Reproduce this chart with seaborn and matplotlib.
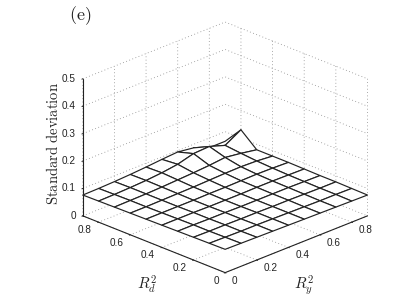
# Loads the necessary libraries
import matplotlib
matplotlib.use("Agg")
import matplotlib.pyplot as plt
import seaborn as sns
import numpy as np
from mpl_toolkits.mplot3d import proj3d

# Grid values and axis ticks
ry_values = [0.0, 0.1, 0.2, 0.3, 0.4, 0.5, 0.6, 0.7, 0.8, 0.9]
rd_values = [0.0, 0.1, 0.2, 0.3, 0.4, 0.5, 0.6, 0.7, 0.8, 0.9]
xy_ticks = [0, 0.2, 0.4, 0.6, 0.8]
xy_labels = ["0", "0.2", "0.4", "0.6", "0.8"]
z_ticks = [0, 0.1, 0.2, 0.3, 0.4, 0.5]
z_labels = ["0", "0.1", "0.2", "0.3", "0.4", "0.5"]

# Standard deviation, one row per Rd value
sd_rd0 = [0.085, 0.084, 0.083, 0.082, 0.081, 0.080, 0.079, 0.078, 0.077, 0.076]
sd_rd1 = [0.084, 0.083, 0.082, 0.082, 0.081, 0.080, 0.079, 0.078, 0.078, 0.077]
sd_rd2 = [0.083, 0.082, 0.082, 0.081, 0.081, 0.080, 0.080, 0.079, 0.078, 0.078]
sd_rd3 = [0.082, 0.082, 0.081, 0.081, 0.080, 0.080, 0.080, 0.080, 0.079, 0.078]
sd_rd4 = [0.081, 0.081, 0.081, 0.080, 0.080, 0.080, 0.081, 0.081, 0.080, 0.079]
sd_rd5 = [0.080, 0.080, 0.080, 0.080, 0.081, 0.081, 0.082, 0.083, 0.082, 0.080]
sd_rd6 = [0.079, 0.079, 0.080, 0.081, 0.082, 0.084, 0.086, 0.087, 0.085, 0.080]
sd_rd7 = [0.078, 0.079, 0.080, 0.082, 0.085, 0.088, 0.092, 0.098, 0.090, 0.080]
sd_rd8 = [0.077, 0.078, 0.080, 0.083, 0.088, 0.096, 0.112, 0.115, 0.096, 0.130]
sd_rd9 = [0.076, 0.077, 0.079, 0.082, 0.086, 0.091, 0.095, 0.087, 0.065, 0.065]

sd = np.array([sd_rd0, sd_rd1, sd_rd2, sd_rd3, sd_rd4,
               sd_rd5, sd_rd6, sd_rd7, sd_rd8, sd_rd9])
ry, rd = np.meshgrid(ry_values, rd_values)

# Theme first, fonts after it
sns.set_theme(style="white")
plt.rcParams["font.family"] = ["Liberation Sans", "DejaVu Sans"]
plt.rcParams["mathtext.fontset"] = "cm"

fig = plt.figure(figsize=(4.07, 3.06), dpi=100, facecolor="white")
ax = fig.add_axes([0.167, 0.005, 0.752, 1.0], projection="3d",
                  proj_type="ortho", facecolor="none")
ax.view_init(elev=23.5, azim=-135)
ax.set_box_aspect((202, 202, 150), zoom=1.02)

# Plot
ax.plot_surface(ry, rd, sd, rstride=1, cstride=1, color="white",
                edgecolor="#222222", linewidth=0.85, shade=False,
                antialiased=True)

ax.set_xlim(0, 0.9, view_margin=0)
ax.set_ylim(0, 0.9, view_margin=0)
ax.set_zlim(0, 0.5, view_margin=0)
ax.set_xticks(xy_ticks, [""] * 5)
ax.set_yticks(xy_ticks, [""] * 5)
ax.set_zticks(z_ticks, [""] * 6)

for axis in (ax.xaxis, ax.yaxis, ax.zaxis):
    axis.set_pane_color((1, 1, 1, 0))
    axis.pane.set_edgecolor((1, 1, 1, 0))
    axis.line.set_color("#222222")
    axis.line.set_linewidth(0.8)
    axis._axinfo["grid"].update(color="#8c8c8c", linestyle=(0, (1, 3)), linewidth=0.6)
    axis._axinfo["tick"].update(inward_factor=0.08, outward_factor=0.0, linewidth={True: 0.7, False: 0.5})


# Tick labels sit at a fixed pixel offset from their ticks
def tick_label(x, y, z, text, dx, dy, ha="center"):
    px, py, _ = proj3d.proj_transform(x, y, z, ax.get_proj())
    ax.annotate(text, xy=(px, py), xytext=(dx * 0.72, dy * 0.72), textcoords="offset points",
                ha=ha, va="center", fontsize=7.2, color="#222222", annotation_clip=False)


for tick, label in zip(xy_ticks, xy_labels):
    shift = 9 if tick == 0 else 14
    tick_label(tick, 0, 0, label, shift, -8)
    tick_label(0, tick, 0, label, -shift, -8)
for tick, label in zip(z_ticks, z_labels):
    tick_label(0, 0.9, tick, label, -7, 0, ha="right")

# Labels
fig.text(0.197, 0.948, r"$\mathrm{(e)}$", fontsize=13, ha="center", va="center", color="#222222")
fig.text(0.130, 0.532, r"$\mathrm{Standard\ deviation}$", fontsize=10.5, rotation=90,
         ha="center", va="center", color="#222222")
fig.text(0.361, 0.068, r"$R_d^2$", fontsize=11, ha="center", va="center", color="#222222")
fig.text(0.747, 0.068, r"$R_y^2$", fontsize=11, ha="center", va="center", color="#222222")

# Saves the image
fig.savefig("out.png", dpi=100)
